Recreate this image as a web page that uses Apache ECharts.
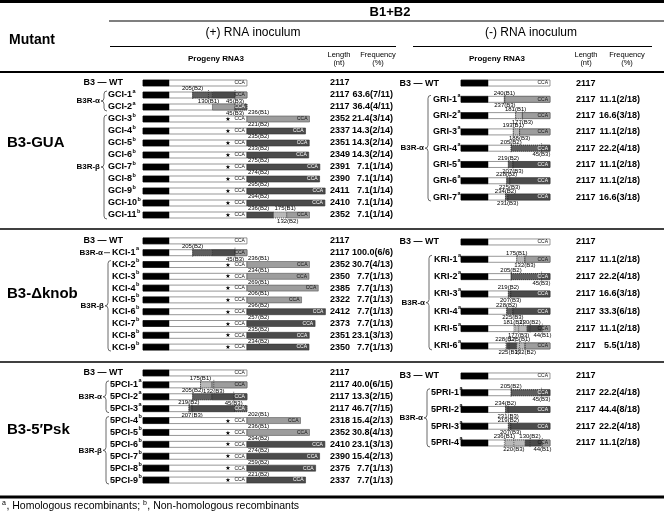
<!DOCTYPE html>
<html><head><meta charset="utf-8">
<script src="https://cdn.jsdelivr.net/npm/echarts@6/dist/echarts.min.js"></script>
<style>html,body{margin:0;padding:0;background:#fff}#c{width:664px;height:514px}</style>
</head><body><div id="c"></div>
<script>
// ---------- DATA ----------
// Segments: [from, to, kind] in nt relative to the B3 3' end (0); negative = inside B3, positive = inserted
// Marks: [position, label, 'up'|'dn', 'c'|'l']

// (+) RNA inoculum, B3-GUA
const guaPlusNames = ['WT','GCI-1','GCI-2','GCI-3','GCI-4','GCI-5','GCI-6','GCI-7','GCI-8','GCI-9','GCI-10','GCI-11'];
const guaPlusSup   = ['','a','a','b','b','b','b','b','b','b','b','b'];
const guaPlusLen   = [2117,2117,2117,2352,2337,2351,2349,2391,2390,2411,2410,2352];
const guaPlusFreq  = ['','63.6(7/11)','36.4(4/11)','21.4(3/14)','14.3(2/14)','14.3(2/14)','14.3(2/14)','7.1(1/14)','7.1(1/14)','7.1(1/14)','7.1(1/14)','7.1(1/14)'];
const guaPlusSegs  = [[],[[-205,-130,'B2z'],[-130,-45,'B2'],[-45,0,'B1']],[[-130,-45,'B1'],[-45,0,'B2z']],
  [[0,236,'B1']],[[0,221,'B2']],[[0,235,'B2']],[[0,233,'B2']],[[0,275,'B2']],[[0,274,'B2']],[[0,295,'B2']],[[0,294,'B2']],
  [[0,100,'B2'],[100,150,'B1z'],[150,236,'B1']]];
const guaPlusMarks = [[],[[-205,'205(B2)','up','c'],[-145,'130(B1)','dn','c'],[-45,'45(B3)','dn','c']],[[-45,'45(B3)','dn','c']],
  [[0,'236(B1)','up','l']],[[0,'221(B2)','up','l']],[[0,'235(B2)','up','l']],[[0,'233(B2)','up','l']],[[0,'275(B2)','up','l']],
  [[0,'274(B2)','up','l']],[[0,'295(B2)','up','l']],[[0,'294(B2)','up','l']],
  [[0,'236(B2)','up','l'],[100,'175(B1)','up','l'],[110,'132(B2)','dn','l']]];

// (+) RNA inoculum, B3-Δknob
const knobPlusNames = ['WT','KCI-1','KCI-2','KCI-3','KCI-4','KCI-5','KCI-6','KCI-7','KCI-8','KCI-9'];
const knobPlusSup   = ['','a','b','b','b','b','b','b','b','b'];
const knobPlusLen   = [2117,2117,2352,2350,2385,2322,2412,2373,2351,2350];
const knobPlusFreq  = ['','100.0(6/6)','30.7(4/13)','7.7(1/13)','7.7(1/13)','7.7(1/13)','7.7(1/13)','7.7(1/13)','23.1(3/13)','7.7(1/13)'];
const knobPlusSegs  = [[],[[-205,-130,'B2z'],[-130,-45,'B2'],[-45,0,'B1']],
  [[0,236,'B1']],[[0,234,'B1']],[[0,269,'B1']],[[0,206,'B1']],[[0,296,'B2']],[[0,257,'B2']],[[0,235,'B2']],[[0,234,'B2']]];
const knobPlusMarks = [[],[[-205,'205(B2)','up','c'],[-45,'45(B3)','dn','c']],
  [[0,'236(B1)','up','l']],[[0,'234(B1)','up','l']],[[0,'269(B1)','up','l']],[[0,'206(B1)','up','l']],
  [[0,'296(B2)','up','l']],[[0,'257(B2)','up','l']],[[0,'235(B2)','up','l']],[[0,'234(B2)','up','l']]];

// (+) RNA inoculum, B3-5'Psk
const pskPlusNames = ['WT','5PCI-1','5PCI-2','5PCI-3','5PCI-4','5PCI-5','5PCI-6','5PCI-7','5PCI-8','5PCI-9'];
const pskPlusSup   = ['','a','a','a','b','b','b','b','b','b'];
const pskPlusLen   = [2117,2117,2117,2117,2318,2352,2410,2390,2375,2337];
const pskPlusFreq  = ['','40.0(6/15)','13.3(2/15)','46.7(7/15)','15.4(2/13)','30.8(4/13)','23.1(3/13)','15.4(2/13)','7.7(1/13)','7.7(1/13)'];
const pskPlusSegs  = [[],[[-175,-132,'B1z'],[-132,0,'B1']],[[-205,-132,'B2z'],[-132,0,'B2']],
  [[-219,-207,'B2z'],[-207,-45,'B2'],[-45,0,'B2z']],
  [[0,202,'B1']],[[0,236,'B1']],[[0,294,'B2']],[[0,274,'B2']],[[0,259,'B2']],[[0,221,'B2']]];
const pskPlusMarks = [[],[[-175,'175(B1)','up','c'],[-125,'132(B3)','dn','c']],[[-205,'205(B2)','up','c'],[-50,'45(B3)','dn','c']],
  [[-219,'219(B2)','up','c'],[-207,'207(B3)','dn','c']],
  [[0,'202(B1)','up','l']],[[0,'236(B1)','up','l']],[[0,'294(B2)','up','l']],[[0,'274(B2)','up','l']],[[0,'259(B2)','up','l']],[[0,'221(B2)','up','l']]];

// (-) RNA inoculum, B3-GUA
const guaMinusNames = ['WT','GRI-1','GRI-2','GRI-3','GRI-4','GRI-5','GRI-6','GRI-7'];
const guaMinusSup   = ['','a','a','a','a','a','a','a'];
const guaMinusLen   = [2117,2117,2117,2117,2117,2117,2117,2117];
const guaMinusFreq  = ['','11.1(2/18)','16.6(3/18)','11.1(2/18)','22.2(4/18)','11.1(2/18)','11.1(2/18)','16.6(3/18)'];
const guaMinusSegs  = [[],[[-240,0,'B1']],[[-181,-145,'B1z'],[-145,0,'B1']],[[-193,-160,'B1z'],[-160,0,'B1']],
  [[-205,-45,'B2z'],[-45,0,'B2']],[[-219,-195,'B2z'],[-195,0,'B2']],[[-228,-212,'B2z'],[-212,0,'B2']],[[-234,-222,'B2z'],[-222,0,'B2']]];
const guaMinusMarks = [[],[[-240,'240(B1)','up','c'],[-237,'237(B3)','dn','c']],[[-181,'181(B1)','up','c'],[-145,'177(B3)','dn','c']],
  [[-193,'193(B1)','up','c'],[-160,'188(B3)','dn','c']],[[-205,'205(B2)','up','c'],[-45,'45(B3)','dn','c']],
  [[-219,'219(B2)','up','c'],[-195,'207(B3)','dn','c']],[[-228,'228(B2)','up','c'],[-212,'225(B3)','dn','c']],
  [[-234,'234(B2)','up','c'],[-222,'231(B3)','dn','c']]];

// (-) RNA inoculum, B3-Δknob
const knobMinusNames = ['WT','KRI-1','KRI-2','KRI-3','KRI-4','KRI-5','KRI-6'];
const knobMinusSup   = ['','a','a','a','a','a','a'];
const knobMinusLen   = [2117,2117,2117,2117,2117,2117,2117];
const knobMinusFreq  = ['','11.1(2/18)','22.2(4/18)','16.6(3/18)','33.3(6/18)','11.1(2/18)','5.5(1/18)'];
const knobMinusSegs  = [[],[[-175,-132,'B1z'],[-132,0,'B1']],[[-205,-45,'B2z'],[-45,0,'B2']],[[-219,-207,'B2z'],[-207,0,'B2']],
  [[-228,-195,'B2z'],[-195,0,'B2']],[[-185,-120,'B1z'],[-120,-44,'B2'],[-44,0,'B1']],
  [[-228,-175,'B2'],[-175,-132,'B1z'],[-132,0,'B1']]];
const knobMinusMarks = [[],[[-175,'175(B1)','up','c'],[-132,'132(B3)','dn','c']],[[-205,'205(B2)','up','c'],[-45,'45(B3)','dn','c']],
  [[-219,'219(B2)','up','c'],[-207,'207(B3)','dn','c']],[[-228,'228(B2)','up','c'],[-195,'225(B3)','dn','c']],
  [[-190,'181(B2)','up','c'],[-105,'130(B2)','up','c'],[-165,'177(B3)','dn','c'],[-40,'44(B1)','dn','c']],
  [[-232,'228(B2)','up','c'],[-160,'175(B1)','up','c'],[-215,'225(B3)','dn','c'],[-130,'132(B2)','dn','c']]];

// (-) RNA inoculum, B3-5'Psk
const pskMinusNames = ['WT','5PRI-1','5PRI-2','5PRI-3','5PRI-4'];
const pskMinusSup   = ['','a','a','a','a'];
const pskMinusLen   = [2117,2117,2117,2117,2117];
const pskMinusFreq  = ['','22.2(4/18)','44.4(8/18)','22.2(4/18)','11.1(2/18)'];
const pskMinusSegs  = [[],[[-205,-45,'B2z'],[-45,0,'B2']],[[-234,-220,'B2z'],[-220,0,'B2']],[[-219,-207,'B2z'],[-207,0,'B2']],
  [[-236,-130,'B1z'],[-130,-44,'B2'],[-44,0,'B1']]];
const pskMinusMarks = [[],[[-205,'205(B2)','up','c'],[-45,'45(B3)','dn','c']],[[-234,'234(B2)','up','c'],[-220,'231(B3)','dn','c']],
  [[-219,'219(B2)','up','c'],[-207,'207(B3)','dn','c']],
  [[-240,'236(B1)','up','c'],[-105,'130(B2)','up','c'],[-190,'220(B3)','dn','c'],[-40,'44(B1)','dn','c']]];

// ---------- LAYOUT / STYLE ----------
const FF = '"Liberation Sans", Arial, sans-serif';
const FN = '"Liberation Sans Narrow", "Liberation Sans", Arial, sans-serif';
const KINDS = {
  B1:  {fill:'#9d9d9d', stroke:'#555', dash:null},
  B2:  {fill:'#4b4b4b', stroke:'#333', dash:null},
  B1z: {fill:'#b9b9b9', stroke:'#111', dash:[1,1]},
  B2z: {fill:'#5e5e5e', stroke:'#000', dash:[1,1]}
};
const panels = {
  L: {left:143, width:210, min:-392, max:400, blackEnd:-294, wtX:123, lenX:330, freqX:393, star:-72},
  R: {left:461, width:108, min:-468, max:100, blackEnd:-326, wtX:439, lenX:576, freqX:640, star:-72}
};
const sections = [
  {p:'L', top:77,    height:144,   names:guaPlusNames,  sups:guaPlusSup,  lens:guaPlusLen,  freqs:guaPlusFreq,  segs:guaPlusSegs,  marks:guaPlusMarks,  nameX:108, braceX:104, groups:[['B3R-α',1,2],['B3R-β',3,11]]},
  {p:'L', top:235,   height:118,   names:knobPlusNames, sups:knobPlusSup, lens:knobPlusLen, freqs:knobPlusFreq, segs:knobPlusSegs, marks:knobPlusMarks, nameX:112, braceX:108, groups:[['B3R-α',1,1],['B3R-β',2,9]]},
  {p:'L', top:367,   height:119,   names:pskPlusNames,  sups:pskPlusSup,  lens:pskPlusLen,  freqs:pskPlusFreq,  segs:pskPlusSegs,  marks:pskPlusMarks,  nameX:110, braceX:106, groups:[['B3R-α',1,3],['B3R-β',4,9]]},
  {p:'R', top:74.9,  height:130.3, names:guaMinusNames, sups:guaMinusSup, lens:guaMinusLen, freqs:guaMinusFreq, segs:guaMinusSegs, marks:guaMinusMarks, nameX:433, braceX:428, groups:[['B3R-α',1,7]]},
  {p:'R', top:233.3, height:121.3, names:knobMinusNames,sups:knobMinusSup,lens:knobMinusLen,freqs:knobMinusFreq,segs:knobMinusSegs,marks:knobMinusMarks,nameX:434, braceX:429, groups:[['B3R-α',1,6]]},
  {p:'R', top:367.6, height:83.75, names:pskMinusNames, sups:pskMinusSup, lens:pskMinusLen, freqs:pskMinusFreq, segs:pskMinusSegs, marks:pskMinusMarks, nameX:431, braceX:427, groups:[['B3R-α',1,4]]}
];

const mctx = document.createElement('canvas').getContext('2d');
function tw(font, s) { mctx.font = font; return mctx.measureText(s).width; }
function txt(x, y, s, font, align, va, fill) {
  return {type:'text', x:x, y:y, silent:true, style:{text:s, font:font, fill:fill || '#000', textAlign:align || 'left', textVerticalAlign:va || 'middle'}};
}

function makeRender(sec, pan) {
  return function (params, api) {
    const i = params.dataIndex;
    const xs = v => api.coord([v, i])[0];
    const yc = api.coord([0, i])[1];
    const h = 6, t = yc - h / 2;
    const ch = [];
    const x0 = xs(pan.min), x3 = xs(0);
    ch.push({type:'rect', shape:{x:x0, y:t, width:x3 - x0, height:h}, style:{fill:'#fff', stroke:'#6a6a6a', lineWidth:0.7}});
    ch.push({type:'rect', shape:{x:x0, y:t, width:xs(pan.blackEnd) - x0, height:h}, style:{fill:'#000', stroke:'#000', lineWidth:0.5}});
    let endV = 0, lastKind = null;
    sec.segs[i].forEach(s => {
      const a = xs(s[0]), b = xs(s[1]), k = KINDS[s[2]];
      ch.push({type:'rect', shape:{x:a, y:t, width:b - a, height:h}, style:{fill:k.fill, stroke:k.stroke, lineWidth:0.6, lineDash:k.dash}});
      if (s[1] >= endV) { endV = s[1]; lastKind = s[2]; }
    });
    const fCCA = '5px ' + FN;
    if (sec.sups[i] === 'b') {
      ch.push(txt(xs(pan.star), yc + 0.5, '★', '6px "DejaVu Sans", sans-serif', 'center', 'middle', '#000'));
      ch.push(txt(x3 - 2, yc, 'CCA', fCCA, 'right', 'middle', '#111'));
    }
    const dark = lastKind === 'B2' || lastKind === 'B2z';
    ch.push(txt(xs(endV) - 2, yc, 'CCA', fCCA, 'right', 'middle', dark ? '#fff' : '#111'));
    sec.marks[i].forEach(m => {
      const x = xs(m[0]);
      const up = m[2] === 'up';
      if (m[3] !== 'l') {
        ch.push({type:'line', shape:{x1:x, y1:t - 2, x2:x, y2:t + h + 2}, style:{stroke:'#222', lineWidth:0.6, lineDash:[1,1]}});
      }
      ch.push(txt(m[3] === 'l' ? x + 1 : x, up ? t - 0.2 : t + h + 0.4, m[1], '6px ' + FN, m[3] === 'l' ? 'left' : 'center', up ? 'bottom' : 'top', '#000'));
    });
    const fName = 'bold 9px ' + FF;
    if (i === 0) {
      ch.push(txt(pan.wtX, yc, 'B3 — WT', fName, 'right', 'middle'));
    } else {
      const nm = sec.names[i];
      ch.push(txt(sec.nameX, yc, nm, fName, 'left', 'middle'));
      ch.push(txt(sec.nameX + tw(fName, nm) + 0.5, yc - 1, sec.sups[i], 'bold 5.5px ' + FF, 'left', 'bottom'));
    }
    ch.push(txt(pan.lenX, yc, String(sec.lens[i]), fName, 'left', 'middle'));
    if (sec.freqs[i]) ch.push(txt(pan.freqX, yc, sec.freqs[i], fName, 'right', 'middle'));
    sec.groups.forEach(g => {
      if (g[1] !== i) return;
      const bx = sec.braceX;
      const fG = 'bold 8px ' + FF;
      if (g[1] === g[2]) {
        ch.push({type:'line', shape:{x1:bx - 4, y1:yc, x2:bx + 2, y2:yc}, style:{stroke:'#333', lineWidth:0.9}});
        ch.push(txt(bx - 5, yc, g[0], fG, 'right', 'middle'));
      } else {
        const yB = api.coord([0, g[2]])[1];
        const y1 = yc - 4, y2 = yB + 4, ym = (y1 + y2) / 2, r = 3;
        const d = `M${bx + r},${y1} Q${bx},${y1} ${bx},${y1 + r} L${bx},${ym - r} Q${bx},${ym} ${bx - r},${ym} Q${bx},${ym} ${bx},${ym + r} L${bx},${y2 - r} Q${bx},${y2} ${bx + r},${y2}`;
        ch.push({type:'path', shape:{pathData:d}, style:{fill:'none', stroke:'#444', lineWidth:0.8}});
        ch.push(txt(bx - 4, ym, g[0], fG, 'right', 'middle'));
      }
    });
    return {type:'group', children:ch};
  };
}

const grids = [], xAxes = [], yAxes = [], series = [];
sections.forEach((sec, k) => {
  const pan = panels[sec.p];
  grids.push({left:pan.left, top:sec.top, width:pan.width, height:sec.height, containLabel:false});
  xAxes.push({type:'value', gridIndex:k, min:pan.min, max:pan.max, show:false});
  yAxes.push({type:'category', gridIndex:k, data:sec.names, inverse:true, show:false});
  series.push({type:'custom', xAxisIndex:k, yAxisIndex:k, clip:false, silent:true,
    encode:{x:0, y:1}, data:sec.names.map((n, i) => [0, i]), renderItem:makeRender(sec, pan)});
});

// header & frame graphics
const G = [];
function gl(x1, y1, x2, y2, w) { G.push({type:'line', silent:true, shape:{x1, y1, x2, y2}, style:{stroke:'#000', lineWidth:w}}); }
function gt(x, y, s, font, align, va) { G.push({type:'text', silent:true, x, y, style:{text:s, font, fill:'#000', textAlign:align, textVerticalAlign:va || 'middle'}}); }
gl(0, 1.5, 664, 1.5, 3);
gt(390, 12, 'B1+B2', 'bold 13px ' + FF, 'center');
gl(109, 21, 664, 21, 1.2);
gt(9, 40, 'Mutant', 'bold 14px ' + FF, 'left');
gt(253, 33, '(+) RNA inoculum', '12px ' + FF, 'center');
gt(531, 33, '(-) RNA inoculum', '12px ' + FF, 'center');
gl(110, 46.5, 396, 46.5, 1.2);
gl(413, 46.5, 652, 46.5, 1.2);
[[216, 339, 378], [497, 586, 627]].forEach(c => {
  gt(c[0], 59, 'Progeny RNA3', 'bold 8px ' + FN, 'center');
  gt(c[1], 55, 'Length', '7.5px ' + FN, 'center');
  gt(c[1], 63, '(nt)', '7.5px ' + FN, 'center');
  gt(c[2], 55, 'Frequency', '7.5px ' + FN, 'center');
  gt(c[2], 63, '(%)', '7.5px ' + FN, 'center');
});
gl(0, 72, 664, 72, 2.2);
gl(0, 229, 664, 229, 1.6);
gl(0, 362, 664, 362, 1.6);
gl(0, 497, 664, 497, 3);
gt(7, 143, 'B3-GUA', 'bold 15px ' + FF, 'left');
gt(7, 294, 'B3-Δknob', 'bold 15px ' + FF, 'left');
gt(7, 430, 'B3-5′Psk', 'bold 15px ' + FF, 'left');
(function () {
  const f = '10.5px ' + FF, fs = '7px ' + FF;
  let x = 2;
  const parts = [['a', true], [', Homologous recombinants; ', false], ['b', true], [', Non-homologous recombinants', false]];
  parts.forEach(p => {
    if (p[1]) { gt(x, 503, p[0], fs, 'left'); x += tw(fs, p[0]) + 0.5; }
    else { gt(x, 506.5, p[0], f, 'left'); x += tw(f, p[0]); }
  });
})();

const chart = echarts.init(document.getElementById('c'), null, {renderer:'canvas'});
chart.setOption({animation:false, backgroundColor:'#fff', grid:grids, xAxis:xAxes, yAxis:yAxes, series:series, graphic:{elements:G}});
</script>
</body></html>
